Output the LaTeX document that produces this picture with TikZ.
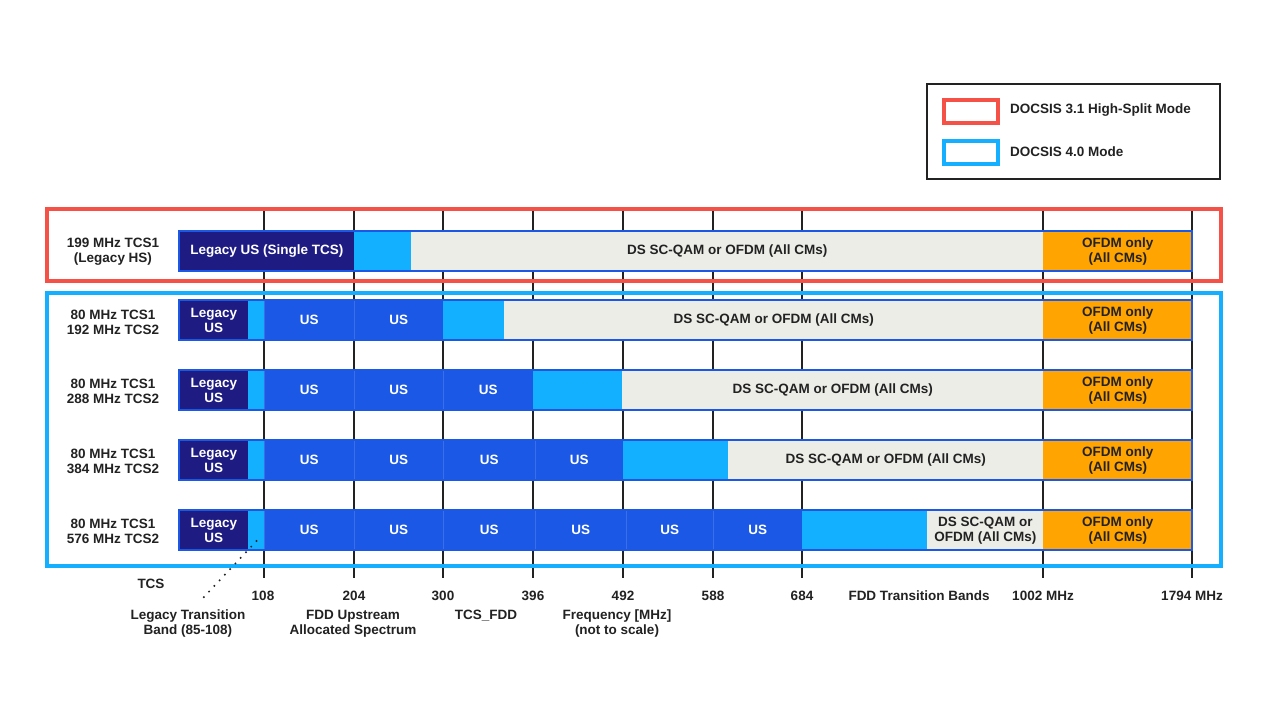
\documentclass[tikz,border=0pt]{standalone}
\usepackage{fontspec}
\setmainfont{Liberation Sans}
\begin{document}
\begin{tikzpicture}[x=1pt,y=-1pt,
  every node/.style={font=\bfseries\fontsize{13.5}{15}\selectfont, text=txt, align=center},
  grid/.style={draw=gridc, line width=2pt},
  seg/.style={anchor=north west, minimum height=40pt, inner sep=0pt, line width=0.6pt},
  navy/.style={seg, fill=navyc, draw=navyc, text=white},
  usb/.style={seg, fill=usc, draw=usline, text=white},
  lb/.style={seg, fill=lbc, draw=lbc},
  gr/.style={seg, fill=grc, draw=grc},
  orc/.style={seg, fill=orange1, draw=orange1},
  barline/.style={draw=usc, line width=2pt},
  boxnode/.style={anchor=north west, inner sep=0pt}
]
\definecolor{txt}{HTML}{222222}
\definecolor{gridc}{HTML}{222222}
\definecolor{navyc}{HTML}{1E1C82}
\definecolor{usc}{HTML}{1B58E6}
\definecolor{usline}{HTML}{3A6FEA}
\definecolor{lbc}{HTML}{12B0FF}
\definecolor{grc}{HTML}{EDEDE8}
\definecolor{orange1}{HTML}{FFA400}
\definecolor{redc}{HTML}{F55146}
\definecolor{bluec}{HTML}{14B0FF}

\useasboundingbox (0,0) rectangle (1280,720);
\fill[white] (0,0) rectangle (1280,720);

% grid lines
\foreach \x in {264,354,443,533,623,713,802,1043,1192}
  \draw[grid] (\x,207) -- (\x,578);

% legend
\node[boxnode, draw=txt, line width=2pt, minimum width=293pt, minimum height=95pt] (legend) at (926,83) {};
\node[boxnode, draw=redc, line width=4pt, minimum width=54pt, minimum height=23pt] (legred) at (942,98) {};
\node[boxnode, draw=bluec, line width=4pt, minimum width=54pt, minimum height=23pt] (legblue) at (942,139) {};
\node[anchor=west, inner sep=0pt] (legredt) at (1010,110.5) {DOCSIS 3.1 High-Split Mode};
\node[anchor=west, inner sep=0pt] (legbluet) at (1010,151.5) {DOCSIS 4.0 Mode};

% mode boxes
\node[boxnode, draw=redc, line width=4pt, minimum width=1174pt, minimum height=72pt] (redbox) at (45,207) {};
\node[boxnode, draw=bluec, line width=4pt, minimum width=1174pt, minimum height=273pt] (bluebox) at (45,291) {};

% segment: name, x1, x2, ytop, style, text
\newcommand{\seg}[6]{\node[#5, minimum width={(#3-#2)*1pt}] (#1) at (#2,#4) {#6};}

% Row 0
\seg{r0a}{179}{354}{231}{navy}{Legacy US (Single TCS)}
\seg{r0b}{354}{411}{231}{lb}{}
\seg{r0c}{411}{1043}{231}{gr}{DS SC-QAM or OFDM (All CMs)}
\seg{r0d}{1043}{1192}{231}{orc}{OFDM only\\(All CMs)}
\draw[barline] (179,231) rectangle (1192,271);
\node (l0) at (113,251.5) {199 MHz TCS1\\(Legacy HS)};

% Row 1
\seg{r1a}{179}{248}{300}{navy}{Legacy\\US}
\seg{r1b}{248}{264}{300}{lb}{}
\seg{r1c}{264}{354}{300}{usb}{US}
\seg{r1d}{354}{443}{300}{usb}{US}
\seg{r1e}{443}{504}{300}{lb}{}
\seg{r1f}{504}{1043}{300}{gr}{DS SC-QAM or OFDM (All CMs)}
\seg{r1g}{1043}{1192}{300}{orc}{OFDM only\\(All CMs)}
\draw[barline] (179,300) rectangle (1192,340);
\node (l1) at (113,322) {80 MHz TCS1\\192 MHz TCS2};

% Row 2
\seg{r2a}{179}{248}{370}{navy}{Legacy\\US}
\seg{r2b}{248}{264}{370}{lb}{}
\seg{r2c}{264}{354}{370}{usb}{US}
\seg{r2d}{354}{443}{370}{usb}{US}
\seg{r2e}{443}{533}{370}{usb}{US}
\seg{r2f}{533}{622}{370}{lb}{}
\seg{r2g}{622}{1043}{370}{gr}{DS SC-QAM or OFDM (All CMs)}
\seg{r2h}{1043}{1192}{370}{orc}{OFDM only\\(All CMs)}
\draw[barline] (179,370) rectangle (1192,410);
\node (l2) at (113,391.5) {80 MHz TCS1\\288 MHz TCS2};

% Row 3
\seg{r3a}{179}{248}{440}{navy}{Legacy\\US}
\seg{r3b}{248}{264}{440}{lb}{}
\seg{r3c}{264}{354}{440}{usb}{US}
\seg{r3d}{354}{443}{440}{usb}{US}
\seg{r3e}{443}{535}{440}{usb}{US}
\seg{r3f}{535}{623}{440}{usb}{US}
\seg{r3g}{623}{728}{440}{lb}{}
\seg{r3h}{728}{1043}{440}{gr}{DS SC-QAM or OFDM (All CMs)}
\seg{r3i}{1043}{1192}{440}{orc}{OFDM only\\(All CMs)}
\draw[barline] (179,440) rectangle (1192,480);
\node (l3) at (113,461.5) {80 MHz TCS1\\384 MHz TCS2};

% Row 4
\seg{r4a}{179}{248}{510}{navy}{Legacy\\US}
\seg{r4b}{248}{264}{510}{lb}{}
\seg{r4c}{264}{354}{510}{usb}{US}
\seg{r4d}{354}{443}{510}{usb}{US}
\seg{r4e}{443}{535}{510}{usb}{US}
\seg{r4f}{535}{626}{510}{usb}{US}
\seg{r4g}{626}{713}{510}{usb}{US}
\seg{r4h}{713}{802}{510}{usb}{US}
\seg{r4i}{802}{927}{510}{lb}{}
\seg{r4j}{927}{1043}{510}{gr}{DS SC-QAM or\\OFDM (All CMs)}
\seg{r4k}{1043}{1192}{510}{orc}{OFDM only\\(All CMs)}
\draw[barline] (179,510) rectangle (1192,550);
\node (l4) at (113,531.5) {80 MHz TCS1\\576 MHz TCS2};

% axis labels
\node (tcs) at (151,583.5) {TCS};
\foreach \x/\t [count=\i] in {263/108,354/204,443/300,533/396,623/492,713/588,802/684,1043/1002 MHz,1192/1794 MHz}
  \node (tick\i) at (\x,595.5) {\t};
\node (fddtb) at (919,595.5) {FDD Transition Bands};
\node (ltb) at (188,623.5) {Legacy Transition\\Band (85-108)};
\node (fddus) at (353,623.5) {FDD Upstream\\Allocated Spectrum};
\node (tcsfdd) at (486,615.5) {TCS\_FDD};
\node (freq) at (617,623.5) {Frequency [MHz]\\(not to scale)};

% dotted pointer
\coordinate (ptA) at (256.5,541);
\coordinate (ptB) at (203,598);
\draw[txt, line width=2.2pt, line cap=round, dash pattern=on 0pt off 7.7pt] (ptA) -- (ptB);
\end{tikzpicture}
\end{document}
